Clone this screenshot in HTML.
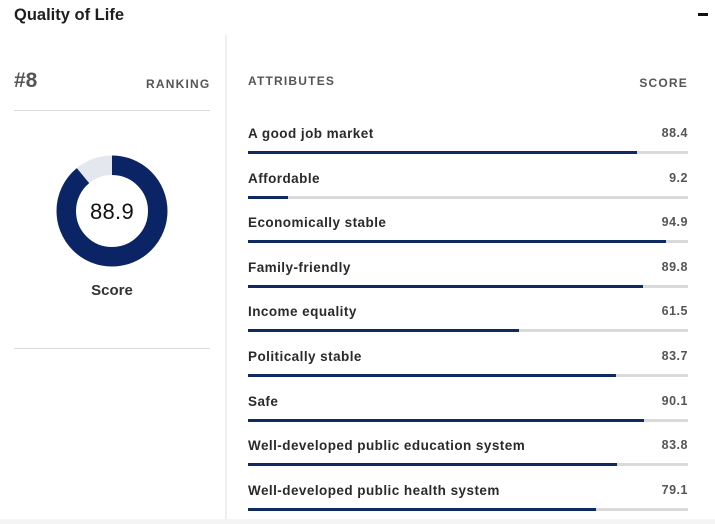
<!DOCTYPE html>
<html><head><meta charset="utf-8"><style>
html,body{margin:0;padding:0;}
body{width:715px;height:524px;background:#fff;position:relative;overflow:hidden;font-family:"Liberation Sans",sans-serif;}
.a{position:absolute;white-space:nowrap;}
.title{left:14px;top:5px;font-size:16.5px;font-weight:bold;color:#1e1e1e;line-height:20px;}
.minus{left:698px;top:13px;width:10px;height:2.5px;background:#111;}
.vdiv{left:225px;top:35px;width:2px;height:489px;background:#efefef;}
.rank{left:14px;top:69px;font-size:21px;font-weight:bold;color:#555;line-height:24px;}
.hdr{font-size:12px;font-weight:bold;color:#555;letter-spacing:1.2px;line-height:14px;}
.hl{left:14px;width:196px;height:1px;background:#dcdcdc;}
.lbl{left:248px;font-size:13.5px;font-weight:bold;color:#2a2a2a;line-height:16px;letter-spacing:0.45px;}
.val{right:27px;font-size:12.5px;font-weight:bold;color:#555;line-height:16px;letter-spacing:0.5px;text-align:right;}
.track{left:248px;width:440px;height:3px;background:#dadada;}
.fill{height:3px;background:#0f2a60;}
.bot{left:0;top:519px;width:715px;height:5px;background:#f4f4f4;}
</style></head><body>
<div class="a title">Quality of Life</div>
<div class="a minus"></div>
<div class="a vdiv"></div>

<div class="a rank">#8</div>
<div class="a hdr" style="left:146px;top:77px;">RANKING</div>
<div class="a hl" style="top:110px;"></div>

<svg class="a" style="left:52px;top:151px;" width="120" height="120" viewBox="0 0 120 120">
  <circle cx="60" cy="60" r="45.75" fill="none" stroke="#e4e7ee" stroke-width="19.5"/>
  <circle cx="60" cy="60" r="45.75" fill="none" stroke="#0b2466" stroke-width="19.5"
    stroke-dasharray="255.6 400" transform="rotate(-90 60 60)"/>
</svg>
<div class="a" style="left:62px;top:199px;width:100px;text-align:center;font-size:22px;color:#111;line-height:26px;letter-spacing:0.3px;">88.9</div>
<div class="a" style="left:62px;top:282px;width:100px;text-align:center;font-size:15px;font-weight:bold;color:#333;line-height:18px;">Score</div>
<div class="a hl" style="top:348px;"></div>

<div class="a hdr" style="left:248px;top:74px;">ATTRIBUTES</div>
<div class="a hdr" style="right:27px;top:76px;">SCORE</div>

<div class="a lbl" style="top:126px;">A good job market</div>
<div class="a val" style="top:125px;">88.4</div>
<div class="a track" style="top:151px;"><div class="fill" style="width:88.4%"></div></div>

<div class="a lbl" style="top:170.6px;">Affordable</div>
<div class="a val" style="top:169.6px;">9.2</div>
<div class="a track" style="top:195.6px;"><div class="fill" style="width:9.2%"></div></div>

<div class="a lbl" style="top:215.2px;">Economically stable</div>
<div class="a val" style="top:214.2px;">94.9</div>
<div class="a track" style="top:240.2px;"><div class="fill" style="width:94.9%"></div></div>

<div class="a lbl" style="top:259.8px;">Family-friendly</div>
<div class="a val" style="top:258.8px;">89.8</div>
<div class="a track" style="top:284.8px;"><div class="fill" style="width:89.8%"></div></div>

<div class="a lbl" style="top:304.4px;">Income equality</div>
<div class="a val" style="top:303.4px;">61.5</div>
<div class="a track" style="top:329.4px;"><div class="fill" style="width:61.5%"></div></div>

<div class="a lbl" style="top:349px;">Politically stable</div>
<div class="a val" style="top:348px;">83.7</div>
<div class="a track" style="top:374px;"><div class="fill" style="width:83.7%"></div></div>

<div class="a lbl" style="top:393.6px;">Safe</div>
<div class="a val" style="top:392.6px;">90.1</div>
<div class="a track" style="top:418.6px;"><div class="fill" style="width:90.1%"></div></div>

<div class="a lbl" style="top:438.2px;">Well-developed public education system</div>
<div class="a val" style="top:437.2px;">83.8</div>
<div class="a track" style="top:463.2px;"><div class="fill" style="width:83.8%"></div></div>

<div class="a lbl" style="top:482.8px;">Well-developed public health system</div>
<div class="a val" style="top:481.8px;">79.1</div>
<div class="a track" style="top:507.8px;"><div class="fill" style="width:79.1%"></div></div>

<div class="a bot"></div>
</body></html>
